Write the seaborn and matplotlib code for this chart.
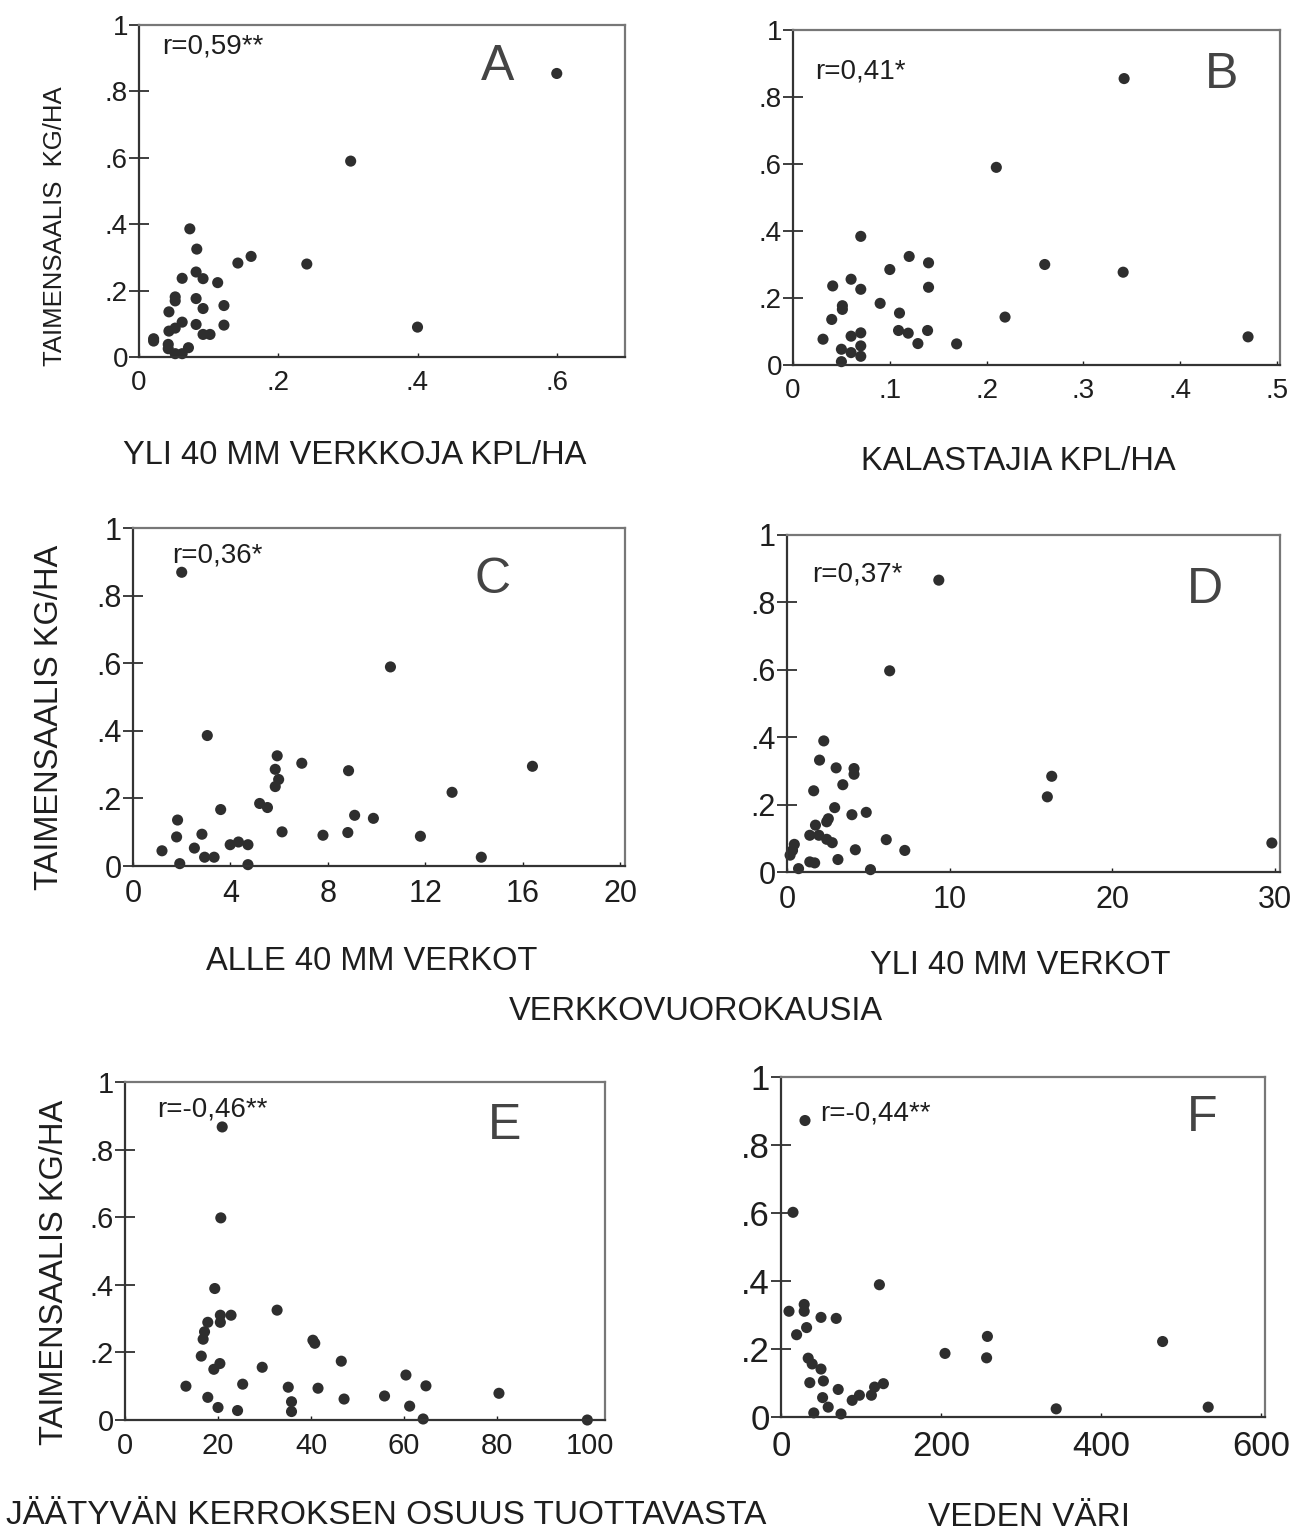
import matplotlib
matplotlib.use("Agg")
import matplotlib.pyplot as plt
import seaborn as sns
import pandas as pd

sns.set_style("ticks")
plt.rcParams['font.family'] = ['Liberation Sans', 'DejaVu Sans']

# A: yli 40 mm verkkoja kpl/ha
a_x = [0.600, 0.304, 0.241, 0.400, 0.073, 0.083, 0.142, 0.161, 0.082, 0.062, 0.092, 0.113,
       0.052, 0.052, 0.082, 0.092, 0.122, 0.043, 0.062, 0.082, 0.122, 0.043, 0.052, 0.092,
       0.102, 0.021, 0.021, 0.042, 0.042, 0.071, 0.052, 0.062]
a_y = [0.854, 0.590, 0.280, 0.090, 0.386, 0.325, 0.283, 0.303, 0.256, 0.237, 0.236, 0.224,
       0.181, 0.169, 0.176, 0.146, 0.155, 0.136, 0.105, 0.098, 0.096, 0.078, 0.087, 0.068,
       0.068, 0.055, 0.048, 0.038, 0.025, 0.028, 0.010, 0.010]

# B: kalastajia kpl/ha
b_x = [0.342, 0.210, 0.260, 0.341, 0.470, 0.219, 0.070, 0.120, 0.140, 0.100, 0.060, 0.041,
       0.070, 0.140, 0.090, 0.051, 0.051, 0.110, 0.040, 0.109, 0.119, 0.139, 0.070, 0.060,
       0.031, 0.129, 0.169, 0.070, 0.050, 0.060, 0.070, 0.050]
b_y = [0.855, 0.590, 0.300, 0.277, 0.084, 0.143, 0.384, 0.324, 0.305, 0.285, 0.256, 0.236,
       0.226, 0.232, 0.184, 0.177, 0.166, 0.155, 0.136, 0.103, 0.095, 0.103, 0.096, 0.086,
       0.077, 0.064, 0.063, 0.057, 0.047, 0.037, 0.026, 0.010]

# C: alle 40 mm verkot
c_x = [2.0, 10.57, 3.05, 16.4, 8.85, 6.93, 5.92, 5.84, 5.98, 5.84, 13.1, 3.6, 5.2, 5.52,
       1.83, 9.1, 9.87, 6.12, 7.8, 8.82, 11.8, 1.79, 2.83, 1.19, 2.52, 3.99, 4.33, 4.72,
       2.94, 3.33, 14.3, 1.92, 4.72]
c_y = [0.869, 0.589, 0.386, 0.295, 0.282, 0.304, 0.326, 0.286, 0.256, 0.235, 0.218, 0.167,
       0.185, 0.173, 0.136, 0.150, 0.141, 0.101, 0.091, 0.099, 0.088, 0.086, 0.094, 0.045,
       0.053, 0.063, 0.071, 0.063, 0.026, 0.026, 0.026, 0.007, 0.004]

# D: yli 40 mm verkot
d_x = [9.33, 6.31, 16.27, 16.0, 29.8, 2.26, 2.0, 3.02, 4.12, 4.12, 3.43, 1.64, 2.93, 3.99,
       4.87, 2.54, 2.44, 1.75, 1.4, 1.96, 2.44, 2.78, 6.1, 4.2, 7.24, 0.45, 0.34, 0.19,
       1.4, 1.7, 3.13, 0.71, 5.13]
d_y = [0.866, 0.597, 0.284, 0.223, 0.086, 0.389, 0.332, 0.309, 0.307, 0.290, 0.259, 0.241,
       0.191, 0.170, 0.177, 0.158, 0.149, 0.139, 0.109, 0.109, 0.097, 0.087, 0.096, 0.066,
       0.064, 0.082, 0.064, 0.050, 0.030, 0.027, 0.037, 0.010, 0.007]

# E: jaatyvan kerroksen osuus tuottavasta
e_x = [20.9, 20.6, 19.3, 32.7, 20.5, 22.8, 20.5, 17.8, 17.1, 16.8, 40.4, 40.8, 16.4, 20.4,
       46.5, 19.1, 29.5, 60.4, 13.1, 25.3, 35.1, 41.5, 64.7, 17.8, 47.1, 55.8, 80.4, 35.8,
       20.0, 24.2, 35.8, 61.2, 64.1, 99.4]
e_y = [0.867, 0.598, 0.389, 0.325, 0.310, 0.310, 0.289, 0.289, 0.261, 0.239, 0.236, 0.227,
       0.189, 0.167, 0.174, 0.150, 0.156, 0.133, 0.100, 0.106, 0.097, 0.094, 0.101, 0.067,
       0.062, 0.071, 0.079, 0.054, 0.037, 0.028, 0.025, 0.041, 0.003, 0.000]

# F: veden vari
f_x = [30, 15, 123, 10, 29, 29, 50, 69, 32, 19.5, 258, 477, 205, 257, 34, 39, 50, 36, 53,
       71.5, 52, 89, 98, 113, 117, 128, 59, 41, 75, 344, 534]
f_y = [0.872, 0.602, 0.389, 0.311, 0.331, 0.311, 0.293, 0.290, 0.263, 0.242, 0.237, 0.222,
       0.187, 0.174, 0.173, 0.156, 0.141, 0.101, 0.106, 0.081, 0.057, 0.049, 0.064, 0.064,
       0.088, 0.098, 0.029, 0.012, 0.009, 0.024, 0.029]

y_ticks = [0, 0.2, 0.4, 0.6, 0.8, 1.0]
y_labels = ['0', '.2', '.4', '.6', '.8', '1']

W, H = 1306, 1533
fig = plt.figure(figsize=(W / 100, H / 100), dpi=100)


def make_ax(left, top, right, bottom):
    return fig.add_axes([left / W, 1 - bottom / H, (right - left) / W, (bottom - top) / H])


panels = [
    dict(box=(139, 25, 625, 357), x=a_x, y=a_y, xlim=(0, 0.698), xt=[0, 0.2, 0.4, 0.6],
         xl=['0', '.2', '.4', '.6'], r='r=0,59**', rpos=(0.047, 0.935), let='A', lpos=(0.737, 0.875), fs=20),
    dict(box=(793, 30, 1280, 365), x=b_x, y=b_y, xlim=(0, 0.503), xt=[0, 0.1, 0.2, 0.3, 0.4, 0.5],
         xl=['0', '.1', '.2', '.3', '.4', '.5'], r='r=0,41*', rpos=(0.045, 0.875), let='B', lpos=(0.881, 0.866), fs=20),
    dict(box=(133, 528, 625, 866), x=c_x, y=c_y, xlim=(0, 20.2), xt=[0, 4, 8, 12, 16, 20],
         xl=['0', '4', '8', '12', '16', '20'], r='r=0,36*', rpos=(0.079, 0.92), let='C', lpos=(0.73, 0.846), fs=22),
    dict(box=(787, 535, 1280, 872), x=d_x, y=d_y, xlim=(0, 30.3), xt=[0, 10, 20, 30],
         xl=['0', '10', '20', '30'], r='r=0,37*', rpos=(0.05, 0.884), let='D', lpos=(0.848, 0.837), fs=22),
    dict(box=(125, 1082, 605, 1420), x=e_x, y=e_y, xlim=(0, 103.2), xt=[0, 20, 40, 60, 80, 100],
         xl=['0', '20', '40', '60', '80', '100'], r='r=-0,46**', rpos=(0.067, 0.92), let='E', lpos=(0.79, 0.87), fs=21),
    dict(box=(781, 1077, 1265, 1417), x=f_x, y=f_y, xlim=(0, 605), xt=[0, 200, 400, 600],
         xl=['0', '200', '400', '600'], r='r=-0,44**', rpos=(0.08, 0.894), let='F', lpos=(0.87, 0.88), fs=25),
]

for p in panels:
    ax = make_ax(*p['box'])
    df = pd.DataFrame({'x': p['x'], 'y': p['y']})
    sns.scatterplot(data=df, x='x', y='y', ax=ax, color='#2e2e2e', s=64,
                    edgecolor='none', clip_on=False)
    ax.set_xlim(*p['xlim'])
    ax.set_ylim(0, 1.0)
    ax.set_xticks(p['xt'])
    ax.set_xticklabels(p['xl'])
    ax.set_yticks(y_ticks)
    ax.set_yticklabels(y_labels)
    ax.set_xlabel('')
    ax.set_ylabel('')
    ax.tick_params(axis='y', direction='inout', length=14, width=1.2, pad=1,
                   labelsize=p['fs'], colors='#1e1e1e')
    ax.tick_params(axis='x', direction='in', length=3, width=1, pad=9,
                   labelsize=p['fs'], colors='#1e1e1e')
    for side in ['left', 'bottom']:
        ax.spines[side].set_color('#333333')
        ax.spines[side].set_linewidth(1.6)
    for side in ['top', 'right']:
        ax.spines[side].set_color('#777777')
        ax.spines[side].set_linewidth(1.6)
    ax.text(p['rpos'][0], p['rpos'][1], p['r'], transform=ax.transAxes, fontsize=20,
            color='#1e1e1e', ha='left', va='center')
    ax.text(p['lpos'][0], p['lpos'][1], p['let'], transform=ax.transAxes, fontsize=36,
            color='#444444', ha='center', va='center')

ylab = 'TAIMENSAALIS KG/HA'
fig.text(55 / W, 1 - 226 / H, 'TAIMENSAALIS  KG/HA', rotation=90, ha='center', va='center',
         fontsize=18.5, color='#1e1e1e')
fig.text(50 / W, 1 - 717 / H, ylab, rotation=90, ha='center', va='center', fontsize=23.5, color='#1e1e1e')
fig.text(55 / W, 1 - 1272 / H, ylab, rotation=90, ha='center', va='center', fontsize=23.5, color='#1e1e1e')

xlabels = [
    ('YLI 40 MM VERKKOJA KPL/HA', 355, 455, 23.5),
    ('KALASTAJIA KPL/HA', 1018, 462, 23.5),
    ('ALLE 40 MM VERKOT', 372, 962, 23.5),
    ('YLI 40 MM VERKOT', 1020, 966, 23.5),
    ('VERKKOVUOROKAUSIA', 696, 1012, 23.5),
    ('JÄÄTYVÄN KERROKSEN OSUUS TUOTTAVASTA', 386, 1515, 24),
    ('VEDEN VÄRI', 1029, 1518, 24),
]
for txt, x, y, fs in xlabels:
    fig.text(x / W, 1 - y / H, txt, ha='center', va='center', fontsize=fs, color='#1e1e1e')

fig.savefig('out.png', dpi=100)
